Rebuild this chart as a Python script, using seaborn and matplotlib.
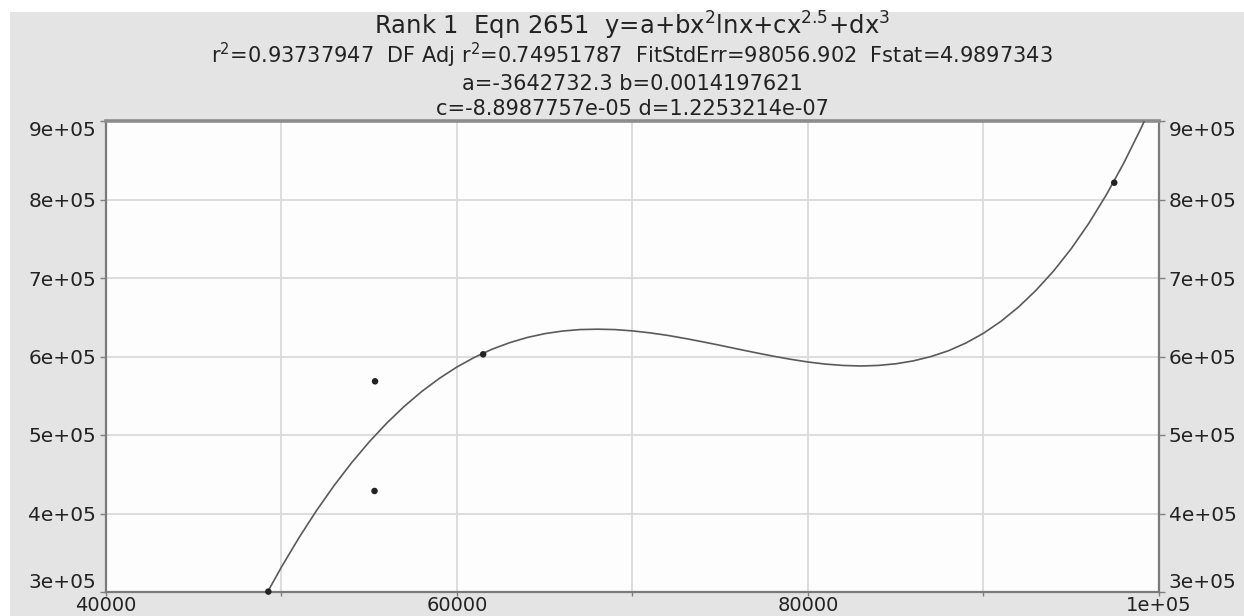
import matplotlib
matplotlib.use("Agg")
import matplotlib.pyplot as plt
import seaborn as sns
import pandas as pd
from matplotlib.patches import Rectangle

# fitted curve, every 1000 in x
curve_x = [49000, 50000, 51000, 52000, 53000, 54000, 55000, 56000, 57000, 58000,
           59000, 60000, 61000, 62000, 63000, 64000, 65000, 66000, 67000, 68000,
           69000, 70000, 71000, 72000, 73000, 74000, 75000, 76000, 77000, 78000,
           79000, 80000, 81000, 82000, 83000, 84000, 85000, 86000, 87000, 88000,
           89000, 90000, 91000, 92000, 93000, 94000, 95000, 96000, 97000, 98000,
           99000, 100000]
curve_y = [291700, 331900, 369300, 403900, 435700, 464800, 491300, 515200, 536600, 555600,
           572200, 586700, 599000, 609300, 617600, 624200, 629100, 632400, 634300, 634800,
           634300, 632600, 630100, 626900, 623000, 618700, 614200, 609500, 604900, 600500,
           596500, 593000, 590300, 588600, 587900, 588600, 590700, 594400, 599900, 607300,
           617200, 629600, 644900, 663100, 684500, 709100, 737400, 769600, 806000, 846700,
           891900, 941600]

# measured points
pts_x = [49250, 55300, 55330, 61490, 97450]
pts_y = [300500, 428700, 568400, 602800, 821400]

xticks = [40000, 60000, 80000, 100000]
xtick_labels = ['40000', '60000', '80000', '1e+05']
xminor = [50000, 70000, 90000]
yticks = [300000, 400000, 500000, 600000, 700000, 800000, 900000]
ytick_labels = ['3e+05', '4e+05', '5e+05', '6e+05', '7e+05', '8e+05', '9e+05']

title_lines = [
    r'Rank 1  Eqn 2651  y=a+bx$^2$lnx+cx$^{2.5}$+dx$^3$',
    r'r$^2$=0.93737947  DF Adj r$^2$=0.74951787  FitStdErr=98056.902  Fstat=4.9897343',
    'a=-3642732.3 b=0.0014197621',
    'c=-8.8987757e-05 d=1.2253214e-07',
]

df_curve = pd.DataFrame({'x': curve_x, 'y': curve_y})
df_pts = pd.DataFrame({'x': pts_x, 'y': pts_y})

sns.set_style('white')
plt.rcParams['font.family'] = ['DejaVu Sans']
plt.rcParams['mathtext.fontset'] = 'dejavusans'

grey = '#e4e4e4'
fig = plt.figure(figsize=(12.44, 6.16), dpi=100, facecolor='white')
# grey panel (thin white margin at top and left)
fig.patches.append(Rectangle((10 / 1244, 0), 1, 1 - 12 / 616, transform=fig.transFigure,
                             facecolor=grey, edgecolor='none', zorder=-10))

ax = fig.add_axes([106 / 1244, 1 - 592 / 616, 1053 / 1244, 471 / 616])
ax.set_facecolor('#fdfdfd')

sns.lineplot(data=df_curve, x='x', y='y', ax=ax, sort=False, estimator=None,
             color='#5a5a5a', linewidth=1.2, zorder=3)
sns.scatterplot(data=df_pts, x='x', y='y', ax=ax, color='#222222', s=22,
                edgecolor='none', zorder=4, clip_on=False)

ax.set_xlim(40000, 100000)
ax.set_ylim(300000, 900000)
ax.set_xticks(xticks)
ax.set_xticklabels(xtick_labels)
ax.set_xticks(xminor, minor=True)
ax.set_yticks(yticks)
ax.set_yticklabels(ytick_labels)
ax.set_xlabel('')
ax.set_ylabel('')

ax.grid(True, which='both', color='#dadada', linewidth=1.3)
ax.set_axisbelow(True)

ax.tick_params(axis='both', which='both', direction='out', width=1,
               color='#808080', labelcolor='#222222')
ax.tick_params(axis='y', length=4, labelsize=14.5, left=True, right=True,
               labelleft=True, labelright=True, pad=3)
ax.tick_params(axis='x', which='both', length=3, labelsize=14, bottom=True, pad=0)

# keep the end labels inside the frame like the original
for tick in ax.yaxis.get_major_ticks():
    txt = tick.label1.get_text()
    if txt == '9e+05':
        tick.label1.set_va('top')
        tick.label2.set_va('top')
    elif txt == '3e+05':
        tick.label1.set_va('bottom')
        tick.label2.set_va('bottom')

for side in ['left', 'right', 'bottom']:
    ax.spines[side].set_color('#7a7a7a')
    ax.spines[side].set_linewidth(1.6)
ax.spines['top'].set_color('#8c8c8c')
ax.spines['top'].set_linewidth(2.6)

cx = 632 / 1244
fig.text(cx, 1 - 35 / 616, title_lines[0], ha='center', va='baseline', fontsize=17.5, color='#222222')
fig.text(cx, 1 - 63 / 616, title_lines[1], ha='center', va='baseline', fontsize=15, color='#222222')
fig.text(cx, 1 - 89.5 / 616, title_lines[2], ha='center', va='baseline', fontsize=15, color='#222222')
fig.text(cx, 1 - 115 / 616, title_lines[3], ha='center', va='baseline', fontsize=15, color='#222222')

fig.savefig('out.png', dpi=100, facecolor=fig.get_facecolor())
